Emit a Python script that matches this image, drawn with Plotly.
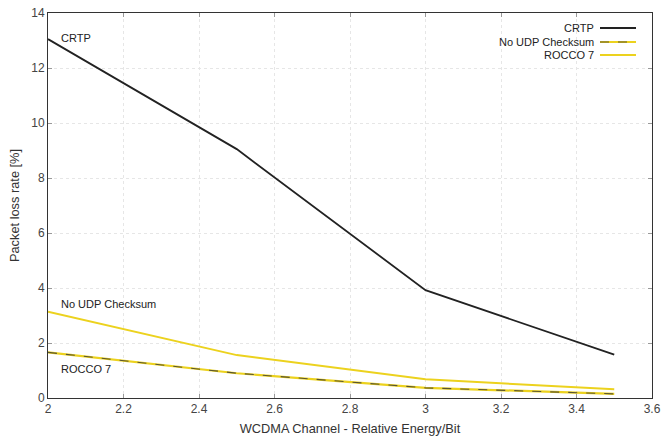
import plotly.graph_objects as go

x_vals = [2.0, 2.5, 3.0, 3.5]
crtp = [13.05, 9.05, 3.92, 1.58]
no_udp = [1.66, 0.9, 0.37, 0.15]
rocco7 = [3.14, 1.56, 0.68, 0.32]

x_ticks = [2, 2.2, 2.4, 2.6, 2.8, 3, 3.2, 3.4, 3.6]
y_ticks = [0, 2, 4, 6, 8, 10, 12, 14]

BLACK = "#222222"
YELLOW = "#ecd21e"
DASH = "#5a5530"
FONT = "Liberation Sans, Arial, sans-serif"

fig = go.Figure()
fig.add_trace(go.Scatter(x=x_vals, y=rocco7, mode="lines", line=dict(color=YELLOW, width=2), name="ROCCO 7"))
fig.add_trace(go.Scatter(x=x_vals, y=no_udp, mode="lines", line=dict(color=YELLOW, width=2.2), name="No UDP Checksum", showlegend=False))
fig.add_trace(go.Scatter(x=x_vals, y=no_udp, mode="lines", line=dict(color=DASH, width=1.1, dash="dash"), name="No UDP Checksum"))
fig.add_trace(go.Scatter(x=x_vals, y=crtp, mode="lines", line=dict(color=BLACK, width=1.8), name="CRTP"))

# in-plot labels
fig.add_annotation(x=2.03, y=13.1, text="CRTP", showarrow=False, xanchor="left", yanchor="middle",
                   font=dict(family=FONT, size=11, color="#222"))
fig.add_annotation(x=2.03, y=3.42, text="No UDP Checksum", showarrow=False, xanchor="left", yanchor="middle",
                   font=dict(family=FONT, size=11, color="#222"))
fig.add_annotation(x=2.03, y=1.05, text="ROCCO 7", showarrow=False, xanchor="left", yanchor="middle",
                   font=dict(family=FONT, size=11, color="#222"))

# manual gnuplot-style legend (text right, sample to the right)
W, H = 663, 441
PW = 652 - 48
PH = 398 - 13
legend_items = [("CRTP", 28, [(BLACK, 2, "solid")]),
                ("No UDP Checksum", 42, [(YELLOW, 2.2, "solid"), (DASH, 1.1, "dash")]),
                ("ROCCO 7", 55, [(YELLOW, 2, "solid")])]
for label, ypx, styles in legend_items:
    fig.add_annotation(xref="paper", yref="paper", x=(596 - 48) / PW, y=(398 - ypx) / PH,
                       text=label, showarrow=False, xanchor="right", yanchor="middle",
                       font=dict(family=FONT, size=11, color="#222"))
    for col, w, d in styles:
        fig.add_shape(type="line", xref="paper", yref="paper",
                      x0=(600 - 48) / PW, x1=(636 - 48) / PW,
                      y0=(398 - ypx) / PH, y1=(398 - ypx) / PH,
                      line=dict(color=col, width=w, dash=d))

axis_common = dict(showline=True, linecolor="#333", linewidth=1, mirror="ticks", ticks="inside", ticklen=4,
                   tickcolor="#999", showgrid=True, gridcolor="#e6e6e6", griddash="dot", gridwidth=1,
                   zeroline=False, automargin=False, tickfont=dict(family=FONT, size=12, color="#444"))

fig.update_layout(
    width=W, height=H, margin=dict(l=48, r=11, t=13, b=43),
    paper_bgcolor="white", plot_bgcolor="white", showlegend=False,
    xaxis=dict(range=[2, 3.6], tickvals=x_ticks, ticktext=[str(t) for t in x_ticks],
               title=dict(text="WCDMA Channel - Relative Energy/Bit", font=dict(family=FONT, size=12.8, color="#333"), standoff=8),
               **axis_common),
    yaxis=dict(range=[0, 14], tickvals=y_ticks,
               title=dict(text="Packet loss rate [%]", font=dict(family=FONT, size=12.8, color="#333"), standoff=8),
               **axis_common),
)

fig.write_html("out.html")
